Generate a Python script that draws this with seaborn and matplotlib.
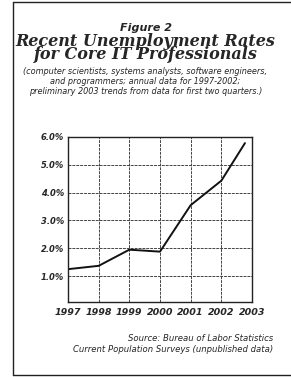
import matplotlib
matplotlib.use('Agg')
import matplotlib.pyplot as plt
import seaborn as sns
import pandas as pd
from matplotlib.lines import Line2D

# annual rates 1997-2002, preliminary 2003 (first two quarters)
years = [1997, 1998, 1999, 2000, 2001, 2002, 2002.77]
rates = [1.25, 1.37, 1.95, 1.88, 3.55, 4.43, 5.78]
year_ticks = [1997, 1998, 1999, 2000, 2001, 2002, 2003]
rate_ticks = [1.0, 2.0, 3.0, 4.0, 5.0, 6.0]

df = pd.DataFrame({"year": years, "rate": rates})

sns.set_style("white")
fig = plt.figure(figsize=(2.91, 3.77), dpi=100)
fig.patch.set_facecolor("white")

# page frame: left, top and bottom rules
fx0, fy0, fy1 = 12.5 / 291, 1 - 375 / 377, 1 - 1.5 / 377
for xs, ys in [([fx0, fx0], [fy0, fy1]), ([fx0, 1], [fy1, fy1]), ([fx0, 1], [fy0, fy0])]:
    fig.add_artist(Line2D(xs, ys, transform=fig.transFigure, color="#222222", lw=1.0))

serif = "DejaVu Serif"
sans = "DejaVu Sans"

fig.text(0.5, 1 - 28 / 377, "Figure 2", ha="center", va="center",
         family=sans, style="italic", weight="bold", fontsize=8)
fig.text(0.5, 1 - 48 / 377, "Recent Unemployment Rates\nfor Core IT Professionals",
         ha="center", va="center", family=serif, style="italic", weight="bold",
         fontsize=11.5, linespacing=0.76)
sub = ("(computer scientists, systems analysts, software engineers,\n"
       "and programmers; annual data for 1997-2002;\n"
       "preliminary 2003 trends from data for first two quarters.)")
fig.text(0.5, 1 - 81.5 / 377, sub, ha="center", va="center", family=sans,
         style="italic", fontsize=5.9, linespacing=1.15)

ax = fig.add_axes([68 / 291, 1 - 302 / 377, 184 / 291, 165 / 377])
sns.lineplot(data=df, x="year", y="rate", ax=ax, color="#111111", lw=1.4)

ax.set_xlim(1997, 2003)
ax.set_ylim(0.07, 6.0)
ax.set_xticks(year_ticks)
ax.set_xticklabels([str(y) for y in year_ticks])
ax.set_yticks(rate_ticks)
ax.set_yticklabels([f"{v:.1f}%" for v in rate_ticks])
ax.grid(True, color="#444444", lw=0.7, ls=(0, (3, 1)))
ax.set_xlabel("")
ax.set_ylabel("")
for s in ax.spines.values():
    s.set_color("#222222")
    s.set_linewidth(1.0)
ax.tick_params(axis="both", length=0, pad=3)
for lab in ax.get_xticklabels():
    lab.set_fontfamily(sans)
    lab.set_fontstyle("italic")
    lab.set_fontweight("bold")
    lab.set_fontsize(6.8)
for lab in ax.get_yticklabels():
    lab.set_fontfamily(sans)
    lab.set_fontstyle("italic")
    lab.set_fontweight("bold")
    lab.set_fontsize(6)
ax.tick_params(axis="x", pad=4)

fig.text(273 / 291, 1 - 344 / 377,
         "Source: Bureau of Labor Statistics\nCurrent Population Surveys (unpublished data)",
         ha="right", va="center", family=sans, style="italic", fontsize=6.1,
         linespacing=1.25)

fig.savefig("out.png", dpi=100, facecolor="white")
plt.close(fig)
